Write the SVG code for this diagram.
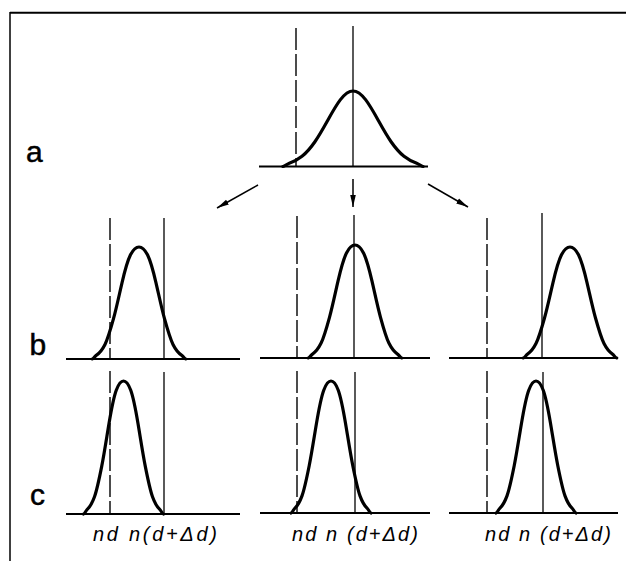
<svg xmlns="http://www.w3.org/2000/svg" width="626" height="561" viewBox="0 0 626 561">
  <style>
    .bg { fill: #ffffff; }
    .frame { stroke: #000; fill: none; }
    .axis { stroke: #000; stroke-width: 2; fill: none; }
    .solid { stroke: #000; stroke-width: 1.3; fill: none; }
    .dash { stroke: #000; stroke-width: 1.4; fill: none; stroke-dasharray: 22 4; }
    .curve { stroke: #000; stroke-width: 3.2; fill: none; stroke-linejoin: round; stroke-linecap: round; }
    .row { font-family: "Liberation Sans", Arial, sans-serif; font-size: 30px; fill: #000; stroke: #000; stroke-width: 0.5; }
    .lbl { font-family: "Liberation Sans", Arial, sans-serif; font-size: 20px; font-style: italic; fill: #000; }
    .arrow { stroke: #000; stroke-width: 1.5; fill: none; }
  </style>
  <defs>
    <path id="bell" class="curve" vector-effect="non-scaling-stroke" d="M -2.75 0 C -2.6667 -0.0042 -2.5833 -0.0348 -2.5 -0.0439 C -2.3333 -0.0622 -2.1667 -0.0902 -2 -0.1353 C -1.8333 -0.1804 -1.6667 -0.2435 -1.5 -0.3247 C -1.3333 -0.4059 -1.1667 -0.5054 -1 -0.6065 C -0.8333 -0.7076 -0.6667 -0.8090 -0.5 -0.8825 C -0.3333 -0.9560 -0.1667 -1 0 -1 C 0.1667 -1 0.3333 -0.9560 0.5 -0.8825 C 0.6667 -0.8090 0.8333 -0.7076 1 -0.6065 C 1.1667 -0.5054 1.3333 -0.4059 1.5 -0.3247 C 1.6667 -0.2435 1.8333 -0.1804 2 -0.1353 C 2.1667 -0.0902 2.3333 -0.0622 2.5 -0.0439 C 2.5833 -0.0348 2.6667 -0.0042 2.75 0"/>
    <path id="bell2" class="curve" vector-effect="non-scaling-stroke" d="M -2.75 0 C -2.6667 -0.0025 -2.5833 -0.0267 -2.5 -0.035 C -2.3333 -0.0517 -2.1667 -0.08 -2 -0.13 C -1.8333 -0.18 -1.6667 -0.2683 -1.5 -0.36 C -1.3333 -0.4517 -1.1667 -0.5717 -1 -0.68 C -0.8333 -0.7883 -0.6667 -0.88 -0.5 -0.93 C -0.3333 -0.98 -0.1667 -1 0 -1 C 0.1667 -1 0.3333 -0.98 0.5 -0.93 C 0.6667 -0.88 0.8333 -0.7883 1 -0.68 C 1.1667 -0.5717 1.3333 -0.4517 1.5 -0.36 C 1.6667 -0.2683 1.8333 -0.18 2 -0.13 C 2.1667 -0.08 2.3333 -0.0517 2.5 -0.035 C 2.5833 -0.0267 2.6667 -0.0025 2.75 0"/>
    <marker id="head" markerUnits="userSpaceOnUse" markerWidth="14" markerHeight="8" refX="12" refY="3.5" orient="auto">
      <path d="M0,0.7 L12,3.5 L0,6.3 Z" fill="#000"/>
    </marker>
  </defs>
  <rect class="bg" x="0" y="0" width="626" height="561"/>

  <g id="frame">
    <line class="frame" x1="10" y1="12.7" x2="626" y2="12.7" stroke-width="2"/>
    <line class="frame" x1="10" y1="12" x2="10" y2="561" stroke-width="1.5"/>
  </g>

  <g id="row-labels">
    <text class="row" x="26" y="162">a</text>
    <text class="row" x="29.5" y="355">b</text>
    <text class="row" x="30" y="505">c</text>
  </g>

  <g id="panel-a">
    <line class="dash" x1="296" y1="28" x2="296" y2="166.5"/>
    <line class="solid" x1="353" y1="26" x2="353" y2="166.5"/>
    <line class="axis" x1="259" y1="166.5" x2="428" y2="166.5"/>
    <use href="#bell" transform="translate(353,166.5) scale(25.5,75.5)"/>
  </g>

  <g id="connectors">
    <line class="arrow" x1="258" y1="185" x2="217" y2="208" marker-end="url(#head)"/>
    <line class="arrow" x1="353" y1="179" x2="353" y2="207" marker-end="url(#head)"/>
    <line class="arrow" x1="428" y1="184" x2="468" y2="207" marker-end="url(#head)"/>
  </g>

  <g id="panel-b-left">
    <line class="dash" x1="110" y1="218" x2="110" y2="359"/>
    <line class="solid" x1="164" y1="218" x2="164" y2="359"/>
    <line class="axis" x1="66" y1="359" x2="240" y2="359"/>
    <use href="#bell2" transform="translate(139,359) scale(17,112)"/>
  </g>
  <g id="panel-b-middle">
    <line class="dash" x1="297" y1="216" x2="297" y2="358"/>
    <line class="solid" x1="354" y1="215" x2="354" y2="358"/>
    <line class="axis" x1="260" y1="358" x2="430" y2="358"/>
    <use href="#bell2" transform="translate(355,358) scale(17,113)"/>
  </g>
  <g id="panel-b-right">
    <line class="dash" x1="487" y1="218" x2="487" y2="358"/>
    <line class="solid" x1="542" y1="213" x2="542" y2="358"/>
    <line class="axis" x1="449" y1="358" x2="618" y2="358"/>
    <use href="#bell2" transform="translate(570,358) scale(17,111)"/>
  </g>

  <g id="panel-c-left">
    <line class="dash" x1="110" y1="371" x2="110" y2="514"/>
    <line class="solid" x1="164" y1="372" x2="164" y2="514"/>
    <line class="axis" x1="66" y1="514" x2="240" y2="514"/>
    <use href="#bell2" transform="translate(123.5,514) scale(14.5,133)"/>
    <text class="lbl" x="93" y="541" textLength="124" lengthAdjust="spacing">nd n(d+Δd)</text>
  </g>
  <g id="panel-c-middle">
    <line class="dash" x1="297" y1="371" x2="297" y2="513"/>
    <line class="solid" x1="355" y1="372" x2="355" y2="513"/>
    <line class="axis" x1="260" y1="513" x2="430" y2="513"/>
    <use href="#bell2" transform="translate(331,513) scale(14.5,132)"/>
    <text class="lbl" x="292" y="541" textLength="126" lengthAdjust="spacing">nd n (d+Δd)</text>
  </g>
  <g id="panel-c-right">
    <line class="dash" x1="487" y1="371" x2="487" y2="513"/>
    <line class="solid" x1="543" y1="372" x2="543" y2="513"/>
    <line class="axis" x1="449" y1="513" x2="618" y2="513"/>
    <use href="#bell2" transform="translate(536,513) scale(14.5,132)"/>
    <text class="lbl" x="485" y="541" textLength="126" lengthAdjust="spacing">nd n (d+Δd)</text>
  </g>
</svg>
